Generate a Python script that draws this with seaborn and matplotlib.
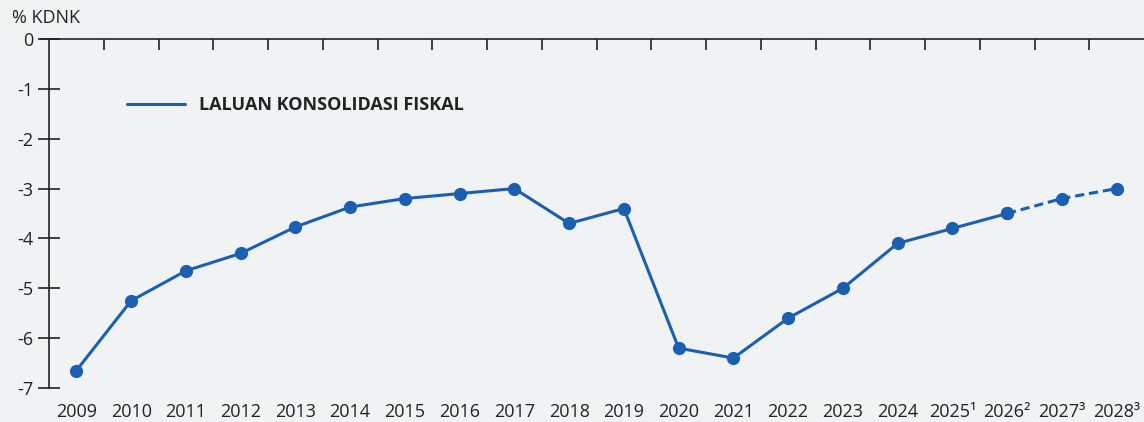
import matplotlib
matplotlib.use("Agg")
import matplotlib.pyplot as plt
import seaborn as sns
import pandas as pd
import numpy as np

years = ["2009", "2010", "2011", "2012", "2013", "2014", "2015", "2016", "2017", "2018",
         "2019", "2020", "2021", "2022", "2023", "2024", "2025", "2026", "2027", "2028"]
tick_labels = ["2009", "2010", "2011", "2012", "2013", "2014", "2015", "2016", "2017", "2018",
               "2019", "2020", "2021", "2022", "2023", "2024", "2025¹", "2026²", "2027³", "2028³"]
balance = [-6.65, -5.25, -4.65, -4.3, -3.77, -3.37, -3.2, -3.1, -3.0, -3.7,
           -3.4, -6.2, -6.4, -5.6, -5.0, -4.1, -3.8, -3.5, -3.2, -3.0]
n_actual = 18  # solid through 2026, dashed projection afterwards
series_name = "LALUAN KONSOLIDASI FISKAL"
y_label = "% KDNK"

sns.set_theme(style="white")
plt.rcParams["font.family"] = ["Open Sans", "Noto Sans", "DejaVu Sans"]

bg = "#f1f2f4"
blue = "#1a5fb0"
dark = "#222222"

df = pd.DataFrame({"pos": np.arange(len(years)), "val": balance})
solid = df.iloc[:n_actual]
dashed = df.iloc[n_actual - 1:]

fig = plt.figure(figsize=(11.44, 4.22), dpi=100, facecolor=bg)
ax = fig.add_axes([49 / 1144, 1 - 388 / 422, (1144 - 49) / 1144, (388 - 39) / 422])
ax.set_facecolor(bg)

sns.lineplot(data=solid, x="pos", y="val", ax=ax, color=blue, linewidth=2.2,
             marker="o", markersize=9.5, markeredgewidth=0, label=series_name)
sns.lineplot(data=dashed, x="pos", y="val", ax=ax, color=blue, linewidth=2.2,
             linestyle=(0, (3, 1.6)), marker="o", markersize=9.5, markeredgewidth=0, legend=False)

ax.set_xlim(-0.5, len(years) - 0.5)
ax.set_ylim(-7, 0)

for s in ["right", "bottom"]:
    ax.spines[s].set_visible(False)
ax.spines["left"].set_color(dark)
ax.spines["left"].set_linewidth(1.2)
ax.spines["top"].set_color(dark)
ax.spines["top"].set_linewidth(1.2)
ax.spines["top"].set_bounds(-0.65, len(years) - 0.5)

# y ticks crossing the spine
ax.set_yticks(np.arange(-7, 1, 1))
ax.set_yticklabels([str(v) for v in range(-7, 1)])
ax.tick_params(axis="y", direction="inout", length=16, width=1.2, color=dark,
               labelsize=13, labelcolor=dark, pad=3, left=True)

# category labels at bottom (no ticks)
ax.set_xticks(np.arange(len(years)))
ax.set_xticklabels(tick_labels)
ax.tick_params(axis="x", bottom=False, top=False, labelsize=13, labelcolor=dark, pad=5)

# boundary ticks on the top (zero) line, pointing down
ax.set_xticks(np.arange(0.5, len(years) - 0.5, 1), minor=True)
ax.tick_params(axis="x", which="minor", top=True, bottom=False, direction="in",
               length=8, width=1.2, color=dark)

ax.set_xlabel("")
ax.set_ylabel("")

fig.text(12 / 1144, 1 - 18 / 422, y_label, fontsize=13, color=dark, va="center", ha="left")

leg = ax.legend(loc="upper left", bbox_to_anchor=(71 / 1095, 1 - 50 / 349), frameon=False,
                handlelength=3.2, handletextpad=0.8, borderaxespad=0,
                prop={"size": 13, "weight": "bold"})
for h in leg.legend_handles:
    h.set_marker("")
for t in leg.get_texts():
    t.set_color(dark)
    t.set_fontweight("bold")

fig.savefig("out.png", dpi=100, facecolor=bg)
